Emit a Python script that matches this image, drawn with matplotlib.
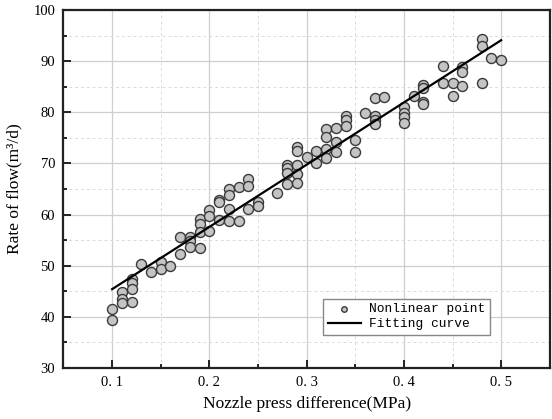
import numpy as np
import matplotlib.pyplot as plt
from matplotlib.ticker import MultipleLocator, FixedLocator, FixedFormatter

# measured points (nozzle pressure difference, flow rate)
press = [0.10, 0.10,
         0.11, 0.11, 0.11,
         0.12, 0.12, 0.12, 0.12,
         0.13, 0.14, 0.15, 0.15, 0.16,
         0.17, 0.17,
         0.18, 0.18, 0.18,
         0.19, 0.19, 0.19, 0.19,
         0.20, 0.20, 0.20,
         0.21, 0.21, 0.21,
         0.22, 0.22, 0.22, 0.22,
         0.23, 0.23,
         0.24, 0.24, 0.24,
         0.25, 0.25,
         0.27,
         0.28, 0.28, 0.28, 0.28,
         0.29, 0.29, 0.29, 0.29, 0.29,
         0.30,
         0.31, 0.31,
         0.32, 0.32, 0.32, 0.32,
         0.33, 0.33, 0.33,
         0.34, 0.34, 0.34,
         0.35, 0.35,
         0.36,
         0.37, 0.37, 0.37, 0.37,
         0.38,
         0.40, 0.40, 0.40, 0.40,
         0.41,
         0.42, 0.42, 0.42, 0.42,
         0.44, 0.44,
         0.45, 0.45,
         0.46, 0.46, 0.46,
         0.48, 0.48, 0.48,
         0.49, 0.50]
flow = [41.5, 39.4,
        44.9, 43.5, 42.6,
        47.3, 46.7, 45.5, 42.9,
        50.3, 48.7, 50.8, 49.3, 49.9,
        55.7, 52.3,
        55.7, 54.9, 53.7,
        59.1, 58.2, 56.5, 53.5,
        60.8, 59.8, 56.7,
        62.8, 62.4, 58.9,
        64.9, 63.8, 61.1, 58.7,
        65.4, 58.7,
        67.0, 65.6, 61.1,
        62.4, 61.7,
        64.3,
        69.7, 69.1, 68.1, 65.9,
        73.2, 72.4, 69.7, 67.9, 66.2,
        71.2,
        72.4, 70.0,
        76.7, 75.2, 72.8, 71.0,
        76.9, 74.1, 72.3,
        79.3, 78.4, 77.3,
        74.6, 72.3,
        79.9,
        82.7, 79.3, 78.5, 77.8,
        82.9,
        81.0, 79.9, 79.0, 78.0,
        83.2,
        85.3, 84.8, 82.1, 81.6,
        89.1, 85.8,
        85.7, 83.2,
        88.9, 87.8, 85.2,
        94.3, 93.0, 85.7,
        90.7, 90.2]

# fitted line end points
fit_x = [0.10, 0.50]
fit_y = [45.4, 94.1]

xticks = [0.1, 0.2, 0.3, 0.4, 0.5]
xticklabels = ['0. 1', '0. 2', '0. 3', '0. 4', '0. 5']

plt.rcParams['font.family'] = ['Liberation Serif', 'DejaVu Serif']

fig = plt.figure(figsize=(5.52, 4.19), dpi=100)
ax = fig.add_axes([0.115, 0.122, 0.881, 0.854])

ax.grid(which='major', color='#cfcfcf', lw=0.9, ls='-', zorder=0)
ax.grid(which='minor', color='#dadada', lw=0.7, ls=(0, (3, 3)), zorder=0)

ax.scatter(press, flow, s=52, facecolor='#c4c4c4', edgecolor='#3a3a3a',
           linewidths=1.0, zorder=3, label='Nonlinear point')
ax.plot(fit_x, fit_y, color='black', lw=1.6, zorder=4, label='Fitting curve')

ax.set_xlim(0.05, 0.55)
ax.set_ylim(30, 100)
ax.xaxis.set_major_locator(FixedLocator(xticks))
ax.xaxis.set_major_formatter(FixedFormatter(xticklabels))
ax.xaxis.set_minor_locator(MultipleLocator(0.05))
ax.yaxis.set_major_locator(MultipleLocator(10))
ax.yaxis.set_minor_locator(MultipleLocator(5))

ax.tick_params(which='both', direction='in', top=False, right=False, width=1.4,
               labelsize=10.5, color='#222222')
ax.tick_params(which='major', length=6, pad=6)
ax.tick_params(which='minor', length=3)
for sp in ax.spines.values():
    sp.set_linewidth(1.6)
    sp.set_color('#222222')

ax.set_xlabel('Nozzle press difference(MPa)', fontsize=12.5, labelpad=5)
ax.set_ylabel('Rate of flow(m³/d)', fontsize=12.5, labelpad=8)

leg = ax.legend(loc='lower left', bbox_to_anchor=(0.534, 0.092), borderaxespad=0,
                fancybox=False, edgecolor='#888888', framealpha=1, markerscale=0.55,
                prop={'family': 'Liberation Mono', 'size': 9.3},
                handlelength=2.6, handletextpad=0.6, borderpad=0.35, labelspacing=0.25)
leg.get_frame().set_linewidth(1.0)

fig.savefig('out.png', dpi=100)
